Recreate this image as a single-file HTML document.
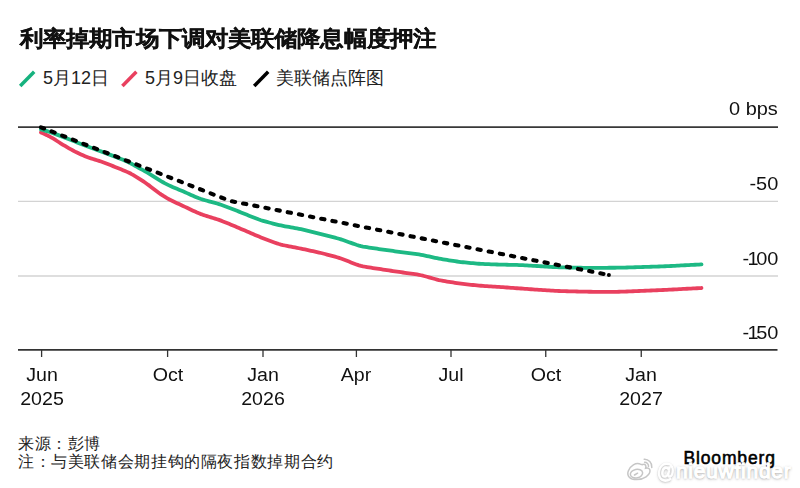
<!DOCTYPE html>
<html><head><meta charset="utf-8">
<style>
html,body{margin:0;padding:0;background:#fff;}
body{width:800px;height:488px;position:relative;overflow:hidden;font-family:"Liberation Sans",sans-serif;color:#000;}
.t{position:absolute;white-space:nowrap;line-height:1;}
#title{left:19.6px;top:27px;font-size:23px;font-weight:bold;color:#111;-webkit-text-stroke:0.3px #111;transform:scale(1.005,0.94);transform-origin:0 23px;}
.leg{top:69px;font-size:18px;color:#222;}
.yl{font-size:17.5px;color:#111;text-align:right;right:22px;transform:scaleX(1.14);transform-origin:100% 50%;}
.xl{font-size:17.5px;color:#111;text-align:center;width:80px;transform:scaleX(1.12);transform-origin:50% 50%;}
.foot{left:18px;font-size:16px;letter-spacing:0.62px;color:#222;}
#logo{left:683.5px;top:450px;font-size:17.5px;font-weight:normal;-webkit-text-stroke:0.55px #000;letter-spacing:0.85px;color:#000;}
#wm{left:657px;top:460px;font-size:21px;color:#fff;letter-spacing:0.75px;-webkit-text-stroke:1.3px #fff;text-shadow:0 0.3px 1.2px rgba(0,0,0,.5),0 0.5px 2.5px rgba(0,0,0,.35),0 1px 4px rgba(0,0,0,.15);}
#wm .at{display:inline-block;transform:scaleX(0.84);transform-origin:0 50%;margin-right:-3.2px;}
#wb{position:absolute;left:0;top:0;}
.one{letter-spacing:-2.2px;}
.hy{letter-spacing:-1.5px;}
svg{position:absolute;left:0;top:0;}
</style></head><body>
<svg width="800" height="488" viewBox="0 0 800 488">
  <line x1="18" y1="201.4" x2="778" y2="201.4" stroke="#d3d3d3" stroke-width="1.4"/>
  <line x1="18" y1="275.95" x2="778" y2="275.95" stroke="#d3d3d3" stroke-width="1.4"/>
  <line x1="18" y1="127.1" x2="778" y2="127.1" stroke="#383838" stroke-width="1.6"/>
  <line x1="18" y1="349.8" x2="777.5" y2="349.8" stroke="#333" stroke-width="1.7"/>
  <g stroke="#333" stroke-width="1.3">
    <line x1="41.6" y1="350" x2="41.6" y2="357"/>
    <line x1="167.6" y1="350" x2="167.6" y2="357"/>
    <line x1="263" y1="350" x2="263" y2="357"/>
    <line x1="356.4" y1="350" x2="356.4" y2="357"/>
    <line x1="451" y1="350" x2="451" y2="357"/>
    <line x1="545.75" y1="350" x2="545.75" y2="357"/>
    <line x1="641.25" y1="350" x2="641.25" y2="357"/>
  </g>
  <path d="M41.0 132.40 L43.0 133.30 L45.0 134.22 L47.0 135.18 L49.0 136.20 L51.0 137.30 L53.0 138.49 L55.0 139.73 L57.0 141.00 L59.0 142.27 L61.0 143.53 L63.0 144.76 L65.0 145.97 L67.0 147.16 L69.0 148.31 L71.0 149.43 L73.0 150.51 L75.0 151.56 L77.0 152.57 L79.0 153.54 L81.0 154.46 L83.0 155.33 L85.0 156.15 L87.0 156.93 L89.0 157.66 L91.0 158.35 L93.0 158.99 L95.0 159.60 L97.0 160.21 L99.0 160.85 L101.0 161.53 L103.0 162.24 L105.0 163.00 L107.0 163.77 L109.0 164.56 L111.0 165.35 L113.0 166.14 L115.0 166.93 L117.0 167.72 L119.0 168.52 L121.0 169.33 L123.0 170.15 L125.0 170.99 L127.0 171.87 L129.0 172.81 L131.0 173.82 L133.0 174.90 L135.0 176.06 L137.0 177.26 L139.0 178.52 L141.0 179.81 L143.0 181.16 L145.0 182.54 L147.0 183.96 L149.0 185.41 L151.0 186.91 L153.0 188.44 L155.0 189.98 L157.0 191.50 L159.0 192.97 L161.0 194.37 L163.0 195.69 L165.0 196.93 L167.0 198.11 L169.0 199.23 L171.0 200.28 L173.0 201.27 L175.0 202.23 L177.0 203.15 L179.0 204.08 L181.0 205.00 L183.0 205.94 L185.0 206.88 L187.0 207.83 L189.0 208.78 L191.0 209.72 L193.0 210.67 L195.0 211.59 L197.0 212.49 L199.0 213.33 L201.0 214.11 L203.0 214.83 L205.0 215.49 L207.0 216.13 L209.0 216.74 L211.0 217.36 L213.0 217.97 L215.0 218.60 L217.0 219.24 L219.0 219.92 L221.0 220.64 L223.0 221.41 L225.0 222.21 L227.0 223.03 L229.0 223.86 L231.0 224.69 L233.0 225.53 L235.0 226.37 L237.0 227.21 L239.0 228.05 L241.0 228.90 L243.0 229.76 L245.0 230.62 L247.0 231.48 L249.0 232.34 L251.0 233.21 L253.0 234.07 L255.0 234.93 L257.0 235.77 L259.0 236.60 L261.0 237.41 L263.0 238.20 L265.0 238.96 L267.0 239.72 L269.0 240.47 L271.0 241.22 L273.0 241.96 L275.0 242.69 L277.0 243.38 L279.0 244.02 L281.0 244.58 L283.0 245.08 L285.0 245.51 L287.0 245.92 L289.0 246.31 L291.0 246.69 L293.0 247.07 L295.0 247.45 L297.0 247.84 L299.0 248.24 L301.0 248.64 L303.0 249.06 L305.0 249.48 L307.0 249.91 L309.0 250.34 L311.0 250.77 L313.0 251.20 L315.0 251.63 L317.0 252.08 L319.0 252.54 L321.0 253.02 L323.0 253.52 L325.0 254.03 L327.0 254.56 L329.0 255.09 L331.0 255.62 L333.0 256.15 L335.0 256.70 L337.0 257.27 L339.0 257.89 L341.0 258.55 L343.0 259.27 L345.0 260.03 L347.0 260.81 L349.0 261.60 L351.0 262.40 L353.0 263.19 L355.0 263.95 L357.0 264.67 L359.0 265.32 L361.0 265.88 L363.0 266.34 L365.0 266.73 L367.0 267.07 L369.0 267.39 L371.0 267.70 L373.0 268.01 L375.0 268.32 L377.0 268.63 L379.0 268.94 L381.0 269.24 L383.0 269.55 L385.0 269.85 L387.0 270.15 L389.0 270.45 L391.0 270.75 L393.0 271.05 L395.0 271.35 L397.0 271.64 L399.0 271.93 L401.0 272.22 L403.0 272.50 L405.0 272.77 L407.0 273.04 L409.0 273.31 L411.0 273.59 L413.0 273.86 L415.0 274.15 L417.0 274.47 L419.0 274.83 L421.0 275.25 L423.0 275.72 L425.0 276.24 L427.0 276.79 L429.0 277.34 L431.0 277.91 L433.0 278.47 L435.0 279.01 L437.0 279.54 L439.0 280.03 L441.0 280.47 L443.0 280.86 L445.0 281.21 L447.0 281.55 L449.0 281.87 L451.0 282.18 L453.0 282.49 L455.0 282.80 L457.0 283.10 L459.0 283.39 L461.0 283.65 L463.0 283.90 L465.0 284.13 L467.0 284.35 L469.0 284.57 L471.0 284.78 L473.0 284.99 L475.0 285.20 L477.0 285.40 L479.0 285.59 L481.0 285.76 L483.0 285.91 L485.0 286.05 L487.0 286.18 L489.0 286.31 L491.0 286.44 L493.0 286.56 L495.0 286.69 L497.0 286.82 L499.0 286.95 L501.0 287.08 L503.0 287.22 L505.0 287.36 L507.0 287.51 L509.0 287.65 L511.0 287.80 L513.0 287.94 L515.0 288.09 L517.0 288.23 L519.0 288.38 L521.0 288.52 L523.0 288.67 L525.0 288.81 L527.0 288.96 L529.0 289.10 L531.0 289.25 L533.0 289.39 L535.0 289.54 L537.0 289.68 L539.0 289.81 L541.0 289.95 L543.0 290.07 L545.0 290.20 L547.0 290.32 L549.0 290.44 L551.0 290.56 L553.0 290.68 L555.0 290.79 L557.0 290.90 L559.0 291.00 L561.0 291.08 L563.0 291.15 L565.0 291.21 L567.0 291.26 L569.0 291.31 L571.0 291.36 L573.0 291.40 L575.0 291.45 L577.0 291.50 L579.0 291.54 L581.0 291.59 L583.0 291.64 L585.0 291.68 L587.0 291.72 L589.0 291.75 L591.0 291.77 L593.0 291.79 L595.0 291.80 L597.0 291.80 L599.0 291.80 L601.0 291.80 L603.0 291.80 L605.0 291.80 L607.0 291.80 L609.0 291.80 L611.0 291.80 L613.0 291.80 L615.0 291.79 L617.0 291.78 L619.0 291.75 L621.0 291.71 L623.0 291.65 L625.0 291.58 L627.0 291.50 L629.0 291.42 L631.0 291.34 L633.0 291.25 L635.0 291.17 L637.0 291.08 L639.0 291.00 L641.0 290.91 L643.0 290.83 L645.0 290.74 L647.0 290.66 L649.0 290.58 L651.0 290.49 L653.0 290.41 L655.0 290.32 L657.0 290.24 L659.0 290.15 L661.0 290.07 L663.0 289.98 L665.0 289.88 L667.0 289.79 L669.0 289.69 L671.0 289.59 L673.0 289.48 L675.0 289.38 L677.0 289.28 L679.0 289.17 L681.0 289.07 L683.0 288.96 L685.0 288.86 L687.0 288.75 L689.0 288.65 L691.0 288.55 L693.0 288.44 L695.0 288.34 L697.0 288.23 L699.0 288.13 L701.0 288.03 L701.5 288.00" fill="none" stroke="#e9405f" stroke-width="3.8" stroke-linecap="round" stroke-linejoin="round"/>
  <path d="M41.0 129.40 L43.0 129.98 L45.0 130.57 L47.0 131.17 L49.0 131.80 L51.0 132.46 L53.0 133.15 L55.0 133.87 L57.0 134.60 L59.0 135.35 L61.0 136.11 L63.0 136.88 L65.0 137.66 L67.0 138.44 L69.0 139.22 L71.0 140.01 L73.0 140.80 L75.0 141.60 L77.0 142.40 L79.0 143.19 L81.0 143.98 L83.0 144.76 L85.0 145.54 L87.0 146.31 L89.0 147.06 L91.0 147.80 L93.0 148.53 L95.0 149.25 L97.0 149.96 L99.0 150.68 L101.0 151.40 L103.0 152.14 L105.0 152.88 L107.0 153.63 L109.0 154.38 L111.0 155.13 L113.0 155.88 L115.0 156.64 L117.0 157.40 L119.0 158.19 L121.0 158.99 L123.0 159.83 L125.0 160.69 L127.0 161.59 L129.0 162.54 L131.0 163.55 L133.0 164.61 L135.0 165.72 L137.0 166.85 L139.0 167.98 L141.0 169.10 L143.0 170.21 L145.0 171.32 L147.0 172.45 L149.0 173.62 L151.0 174.84 L153.0 176.10 L155.0 177.40 L157.0 178.69 L159.0 179.94 L161.0 181.14 L163.0 182.27 L165.0 183.35 L167.0 184.37 L169.0 185.34 L171.0 186.26 L173.0 187.14 L175.0 187.99 L177.0 188.82 L179.0 189.65 L181.0 190.50 L183.0 191.36 L185.0 192.23 L187.0 193.12 L189.0 194.01 L191.0 194.89 L193.0 195.77 L195.0 196.64 L197.0 197.47 L199.0 198.25 L201.0 198.97 L203.0 199.61 L205.0 200.20 L207.0 200.76 L209.0 201.31 L211.0 201.84 L213.0 202.38 L215.0 202.94 L217.0 203.51 L219.0 204.12 L221.0 204.77 L223.0 205.47 L225.0 206.21 L227.0 206.97 L229.0 207.74 L231.0 208.51 L233.0 209.29 L235.0 210.07 L237.0 210.85 L239.0 211.63 L241.0 212.42 L243.0 213.22 L245.0 214.03 L247.0 214.84 L249.0 215.65 L251.0 216.45 L253.0 217.26 L255.0 218.05 L257.0 218.81 L259.0 219.54 L261.0 220.21 L263.0 220.82 L265.0 221.40 L267.0 221.95 L269.0 222.48 L271.0 223.01 L273.0 223.54 L275.0 224.06 L277.0 224.56 L279.0 225.03 L281.0 225.47 L283.0 225.88 L285.0 226.26 L287.0 226.62 L289.0 226.97 L291.0 227.33 L293.0 227.68 L295.0 228.04 L297.0 228.41 L299.0 228.81 L301.0 229.23 L303.0 229.69 L305.0 230.16 L307.0 230.65 L309.0 231.15 L311.0 231.65 L313.0 232.15 L315.0 232.65 L317.0 233.15 L319.0 233.65 L321.0 234.15 L323.0 234.65 L325.0 235.15 L327.0 235.65 L329.0 236.15 L331.0 236.65 L333.0 237.16 L335.0 237.67 L337.0 238.21 L339.0 238.78 L341.0 239.40 L343.0 240.05 L345.0 240.75 L347.0 241.46 L349.0 242.19 L351.0 242.91 L353.0 243.63 L355.0 244.33 L357.0 244.99 L359.0 245.59 L361.0 246.11 L363.0 246.54 L365.0 246.91 L367.0 247.24 L369.0 247.55 L371.0 247.85 L373.0 248.15 L375.0 248.45 L377.0 248.74 L379.0 249.04 L381.0 249.32 L383.0 249.61 L385.0 249.89 L387.0 250.16 L389.0 250.44 L391.0 250.71 L393.0 250.99 L395.0 251.26 L397.0 251.53 L399.0 251.80 L401.0 252.07 L403.0 252.33 L405.0 252.59 L407.0 252.84 L409.0 253.10 L411.0 253.35 L413.0 253.61 L415.0 253.88 L417.0 254.16 L419.0 254.48 L421.0 254.82 L423.0 255.21 L425.0 255.62 L427.0 256.05 L429.0 256.48 L431.0 256.92 L433.0 257.36 L435.0 257.79 L437.0 258.21 L439.0 258.61 L441.0 258.98 L443.0 259.33 L445.0 259.66 L447.0 259.98 L449.0 260.29 L451.0 260.60 L453.0 260.91 L455.0 261.21 L457.0 261.50 L459.0 261.78 L461.0 262.03 L463.0 262.25 L465.0 262.46 L467.0 262.66 L469.0 262.85 L471.0 263.04 L473.0 263.23 L475.0 263.41 L477.0 263.58 L479.0 263.74 L481.0 263.87 L483.0 263.97 L485.0 264.06 L487.0 264.14 L489.0 264.21 L491.0 264.28 L493.0 264.35 L495.0 264.42 L497.0 264.49 L499.0 264.55 L501.0 264.60 L503.0 264.65 L505.0 264.70 L507.0 264.74 L509.0 264.78 L511.0 264.82 L513.0 264.86 L515.0 264.91 L517.0 264.96 L519.0 265.03 L521.0 265.11 L523.0 265.20 L525.0 265.31 L527.0 265.42 L529.0 265.54 L531.0 265.66 L533.0 265.78 L535.0 265.90 L537.0 266.02 L539.0 266.14 L541.0 266.26 L543.0 266.38 L545.0 266.50 L547.0 266.62 L549.0 266.74 L551.0 266.86 L553.0 266.98 L555.0 267.09 L557.0 267.20 L559.0 267.29 L561.0 267.37 L563.0 267.43 L565.0 267.47 L567.0 267.51 L569.0 267.55 L571.0 267.58 L573.0 267.62 L575.0 267.65 L577.0 267.68 L579.0 267.72 L581.0 267.75 L583.0 267.78 L585.0 267.81 L587.0 267.84 L589.0 267.86 L591.0 267.87 L593.0 267.87 L595.0 267.86 L597.0 267.85 L599.0 267.84 L601.0 267.83 L603.0 267.81 L605.0 267.80 L607.0 267.79 L609.0 267.77 L611.0 267.76 L613.0 267.75 L615.0 267.73 L617.0 267.71 L619.0 267.68 L621.0 267.64 L623.0 267.59 L625.0 267.54 L627.0 267.48 L629.0 267.42 L631.0 267.36 L633.0 267.30 L635.0 267.23 L637.0 267.17 L639.0 267.11 L641.0 267.05 L643.0 266.98 L645.0 266.92 L647.0 266.86 L649.0 266.80 L651.0 266.74 L653.0 266.67 L655.0 266.61 L657.0 266.55 L659.0 266.48 L661.0 266.42 L663.0 266.35 L665.0 266.27 L667.0 266.18 L669.0 266.09 L671.0 265.99 L673.0 265.88 L675.0 265.78 L677.0 265.68 L679.0 265.57 L681.0 265.47 L683.0 265.36 L685.0 265.26 L687.0 265.15 L689.0 265.05 L691.0 264.95 L693.0 264.84 L695.0 264.74 L697.0 264.63 L699.0 264.53 L701.0 264.43 L701.5 264.40" fill="none" stroke="#1db984" stroke-width="3.8" stroke-linecap="round" stroke-linejoin="round"/>
  <path d="M41 127.3 L230 200.9 L606 274.4" fill="none" stroke="#000" stroke-width="4.1" stroke-linecap="round" stroke-dasharray="3.3 8.075"/><circle cx="608.9" cy="275.1" r="2" fill="#000"/>
  <line x1="20.2" y1="86" x2="34.2" y2="71.7" stroke="#16b27e" stroke-width="3.5" />
  <line x1="122.4" y1="86" x2="136.4" y2="71.7" stroke="#e9405f" stroke-width="3.5" />
  <line x1="254.2" y1="86" x2="268.2" y2="71.7" stroke="#000" stroke-width="3.5" />
</svg>
<div class="t" id="title">利率掉期市场下调对美联储降息幅度押注</div>
<div class="t leg" style="left:43px">5月12日</div>
<div class="t leg" style="left:145px">5月9日收盘</div>
<div class="t leg" style="left:276.3px">美联储点阵图</div>
<div class="t yl" style="top:101px">0 bps</div>
<div class="t yl" style="top:176px">-50</div>
<div class="t yl" style="top:251px"><span class="hy">-</span><span class="one">1</span>00</div>
<div class="t yl" style="top:325px"><span class="hy">-</span><span class="one">1</span>50</div>
<div class="t xl" style="left:1.6px;top:367px">Jun</div>
<div class="t xl" style="left:1.6px;top:391px">2025</div>
<div class="t xl" style="left:127.6px;top:367px">Oct</div>
<div class="t xl" style="left:223px;top:367px">Jan</div>
<div class="t xl" style="left:223px;top:391px">2026</div>
<div class="t xl" style="left:316.4px;top:367px">Apr</div>
<div class="t xl" style="left:411px;top:367px">Jul</div>
<div class="t xl" style="left:505.75px;top:367px">Oct</div>
<div class="t xl" style="left:601.25px;top:367px">Jan</div>
<div class="t xl" style="left:601.25px;top:391px">2027</div>
<div class="t foot" style="top:435.5px">来源：彭博</div>
<div class="t foot" style="top:453.5px">注：与美联储会期挂钩的隔夜指数掉期合约</div>
<div class="t" id="logo">Bloomberg</div>
<svg id="wb" width="800" height="488" viewBox="0 0 800 488">
 <defs><filter id="bl" x="-20%" y="-20%" width="140%" height="140%"><feGaussianBlur stdDeviation="0.3"/></filter></defs>
 <g fill="none" stroke="#c6c6c6" stroke-width="1.5" stroke-linecap="round" filter="url(#bl)">
  <path d="M640.5 464.2 C636 462 630 466 628.3 471 C626.5 476 630 479.6 636.5 479.6 C644 479.6 650 475 650 470.8 C650 468.5 648 467.6 645.6 468.2 C646.5 465.5 645.3 463.6 642.6 464.6 Z"/>
  <ellipse cx="636.5" cy="473.6" rx="6.2" ry="4.3" transform="rotate(-12 636.5 473.6)"/>
  <path d="M644.2 459.2 C648.5 459 652.3 462.8 651.8 467.5"/>
  <path d="M644.6 462.3 C646.8 462.2 648.8 464.2 648.5 466.5"/>
  <path d="M634.5 475 L637.6 473.2"/>
 </g>
</svg>
<div class="t" id="wm"><span class="at">@</span>nieuwfinder</div>
</body></html>
